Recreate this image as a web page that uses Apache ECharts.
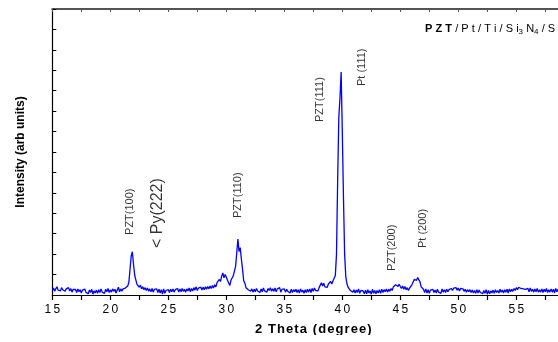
<!DOCTYPE html>
<html><head><meta charset="utf-8">
<script src="https://cdn.jsdelivr.net/npm/echarts@6/dist/echarts.min.js"></script>
<style>html,body{margin:0;padding:0;background:#fff}#c{width:558px;height:342px}</style>
</head><body><div id="c"></div>
<script>
// 2-theta sampling of the scan
const thetaStart = 15.0;
const thetaStep = 0.1;
// intensity (arb units), one row per degree (15.0 ... 59.0)
const intensity = [
  22,34,18,30,40,24,33,20,36,26, // 15
  32,18,30,22,36,20,31,14,28,19, // 16
  27,12,30,16,26,10,24,15,29,13, // 17
  22,6,25,12,28,4,20,10,24,8,    // 18
  26,12,30,14,22,8,28,16,32,12,  // 19
  25,14,30,18,28,10,24,38,16,30, // 20
  18,30,22,34,28,44,62,125,190,212, // 21
  150,98,74,52,58,38,48,30,40,26, // 22
  36,22,34,18,30,16,32,14,28,20, // 23
  30,12,28,10,26,4,30,8,22,14,   // 24
  26,12,28,16,30,14,26,18,32,14, // 25
  30,16,32,18,28,14,30,20,34,16, // 26
  32,20,36,24,40,22,34,26,38,24, // 27
  38,26,40,28,42,30,44,32,46,34, // 28
  50,40,60,52,76,66,92,108,84,100, // 29
  88,72,80,46,72,66,94,100,140,205, // 30
  274,212,232,176,126,70,58,36,42,26, // 31
  34,18,30,14,28,16,32,20,26,12, // 32
  30,16,34,20,28,14,32,22,36,18, // 33
  30,18,34,16,30,22,36,14,28,20, // 34
  30,14,28,18,26,10,28,12,26,16, // 35
  28,12,26,10,30,14,24,8,26,12,  // 36
  28,14,30,12,32,18,34,22,30,20, // 37
  36,30,60,44,58,40,48,38,54,46, // 38
  66,54,70,76,95,200,560,870,965,1092, // 39
  800,480,200,90,55,38,32,22,30,14, // 40
  26,10,24,12,30,8,22,14,20,6,   // 41
  24,6,26,10,20,4,28,8,22,6,     // 42
  22,10,26,8,28,12,26,16,30,14,  // 43
  28,18,32,22,40,36,50,58,42,52, // 44
  46,32,44,28,42,26,36,22,34,40, // 45
  50,56,76,82,72,86,74,64,40,32, // 46
  28,12,30,10,26,8,24,16,28,12,  // 47
  24,10,28,14,22,8,30,14,26,12,  // 48
  28,16,26,18,32,22,34,28,36,24, // 49
  34,20,32,24,30,18,28,14,26,16, // 50
  26,12,24,10,22,8,26,10,24,12,  // 51
  20,6,22,8,26,4,22,6,20,10,     // 52
  24,8,26,12,22,10,28,14,24,10,  // 53
  26,14,28,10,30,16,28,18,32,22, // 54
  36,26,38,44,32,40,30,36,28,22, // 55
  32,16,34,18,28,14,30,16,32,14, // 56
  26,14,30,12,28,16,32,12,26,14, // 57
  30,14,28,10,32,16,28,10,26,16, // 58
  24                             // 59
];
// peak annotations
const peakNames = ['PZT(100)', '< Py(222)', 'PZT(110)', 'PZT(111)', 'Pt (111)', 'PZT(200)', 'Pt (200)'];
const peakTheta = [21.7, 24.1, 31.03, 38.08, 41.67, 44.31, 46.98];
const peakIntensity = [294, 230, 377, 847, 1023, 117, 230];
// axes
const xMin = 15, xMax = 60, xStep = 5;
const yMin = 0, yMax = 1400, yStep = 100;
const xTitle = '2 Theta (degree)';
const yTitle = 'Intensity (arb units)';
const sampleTitle = ['PZT', '/Pt/Ti/Si', '3', 'N', '4', '/Si'];

const FONT = 'Arial, "Liberation Sans", sans-serif';
const hair = '\u200A';
const thin = '\u2009';
const gap = thin + hair;
const spaced = (s, sep) => s.split('').join(sep);

const lineData = intensity.map((v, i) => [+(thetaStart + i * thetaStep).toFixed(2), v]);
const labelData = peakNames.map((n, i) => ({
  name: n,
  value: [peakTheta[i], peakIntensity[i]],
  label: { fontSize: n.indexOf('Py') >= 0 ? 16 : 11 }
}));

const chart = echarts.init(document.getElementById('c'), null, { renderer: 'canvas' });
chart.setOption({
  animation: false,
  backgroundColor: '#fff',
  textStyle: { fontFamily: FONT },
  grid: { left: 52.3, right: -16.3, top: 9, bottom: 47, containLabel: false, outerBoundsMode: 'none' },
  title: {
    text: '{b|' + spaced(sampleTitle[0], gap) + '}{n|' + gap + spaced(sampleTitle[1], gap) +
      '}{s|' + sampleTitle[2] + '}{n|' + gap + sampleTitle[3] + '}{s|' + sampleTitle[4] + '}{n|' + gap + spaced(sampleTitle[5], gap) + '}',
    left: 425, top: 22, padding: 0,
    textStyle: {
      fontWeight: 'normal',
      rich: {
        b: { fontFamily: FONT, fontWeight: 'bold', fontSize: 11, color: '#000', lineHeight: 14 },
        n: { fontFamily: FONT, fontWeight: 'normal', fontSize: 11, color: '#000', lineHeight: 14 },
        s: { fontFamily: FONT, fontWeight: 'normal', fontSize: 8, color: '#000', lineHeight: 8, verticalAlign: 'bottom' }
      }
    }
  },
  xAxis: [{
    type: 'value', position: 'bottom', min: xMin, max: xMax, interval: xStep,
    axisLine: { show: true, onZero: false, lineStyle: { color: '#000', width: 1.2 } },
    axisTick: { show: true, inside: false, length: 5, lineStyle: { color: '#000', width: 1.2 } },
    minorTick: { show: true, splitNumber: 2, length: 5, lineStyle: { color: '#000', width: 1.2 } },
    splitLine: { show: false },
    axisLabel: {
      show: true, margin: 9, fontSize: 12, color: '#000', fontFamily: FONT,
      formatter: v => spaced(String(v), thin)
    },
    name: spaced(xTitle, hair), nameLocation: 'middle', nameGap: 28,
    nameTextStyle: { fontSize: 13, fontWeight: 'bold', color: '#000', fontFamily: FONT }
  }, {
    type: 'value', position: 'top', min: xMin, max: xMax, interval: xStep,
    axisLine: { show: true, onZero: false, lineStyle: { color: '#555', width: 2 } },
    axisTick: { show: true, inside: true, length: 3, lineStyle: { color: '#555' } },
    minorTick: { show: true, splitNumber: 2, length: 3, lineStyle: { color: '#555' } },
    splitLine: { show: false },
    axisLabel: { show: false }
  }],
  yAxis: {
    type: 'value', min: yMin, max: yMax, interval: yStep,
    axisLine: { show: true, onZero: false, lineStyle: { color: '#000', width: 1.2 } },
    axisTick: { show: true, inside: true, length: 4, lineStyle: { color: '#000' } },
    splitLine: { show: false },
    axisLabel: { show: false },
    name: yTitle, nameLocation: 'middle', nameGap: 26,
    nameTextStyle: { fontSize: 12, fontWeight: 'bold', color: '#000', fontFamily: FONT }
  },
  series: [{
    type: 'line', data: lineData, showSymbol: false, symbol: 'none',
    lineStyle: { color: '#0000ff', width: 1.3 }, clip: true, z: 3
  }, {
    type: 'scatter', data: labelData, symbolSize: 1,
    itemStyle: { color: 'rgba(0,0,0,0)' },
    label: {
      show: true, formatter: '{b}', position: 'inside', rotate: 90,
      align: 'left', verticalAlign: 'middle', color: '#000', fontFamily: FONT
    },
    z: 4
  }],
  graphic: [{
    type: 'rect', left: 0, top: 335, z: 100,
    shape: { width: 558, height: 7 }, style: { fill: '#fff' }
  }]
});
</script></body></html>
